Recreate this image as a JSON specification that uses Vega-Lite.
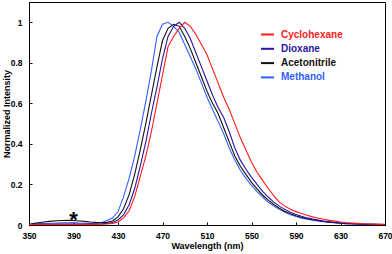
{
  "$schema": "https://vega.github.io/schema/vega-lite/v6.json",
  "width": 356,
  "height": 223,
  "autosize": "none",
  "padding": {"left": 29, "top": 2, "right": 7, "bottom": 29},
  "background": "white",
  "config": {
    "font": "Liberation Sans",
    "view": {"stroke": "black", "strokeWidth": 1},
    "axis": {"grid": false, "domainColor": "black", "tickColor": "black", "labelColor": "black", "titleColor": "black", "labelFont": "Liberation Sans", "titleFont": "Liberation Sans", "labelFontWeight": "bold", "titleFontWeight": "bold", "labelFontSize": 8.5, "titleFontSize": 9}
  },
  "layer": [
    {
      "data": {"values": [
        {"s":"Methanol","w":350,"v":0.004},{"s":"Methanol","w":355,"v":0.005},{"s":"Methanol","w":360,"v":0.007},{"s":"Methanol","w":365,"v":0.008},{"s":"Methanol","w":370,"v":0.009},{"s":"Methanol","w":375,"v":0.010},{"s":"Methanol","w":380,"v":0.011},{"s":"Methanol","w":385,"v":0.011},{"s":"Methanol","w":390,"v":0.012},{"s":"Methanol","w":395,"v":0.010},{"s":"Methanol","w":400,"v":0.009},{"s":"Methanol","w":405,"v":0.008},{"s":"Methanol","w":410,"v":0.008},{"s":"Methanol","w":415,"v":0.011},{"s":"Methanol","w":420,"v":0.022},{"s":"Methanol","w":425,"v":0.034},{"s":"Methanol","w":430,"v":0.065},{"s":"Methanol","w":435,"v":0.14},{"s":"Methanol","w":440,"v":0.23},{"s":"Methanol","w":445,"v":0.34},{"s":"Methanol","w":450,"v":0.47},{"s":"Methanol","w":455,"v":0.61},{"s":"Methanol","w":460,"v":0.76},{"s":"Methanol","w":465,"v":0.93},{"s":"Methanol","w":470,"v":0.99},{"s":"Methanol","w":475,"v":1.0},{"s":"Methanol","w":480,"v":0.98},{"s":"Methanol","w":485,"v":0.95},{"s":"Methanol","w":490,"v":0.89},{"s":"Methanol","w":495,"v":0.83},{"s":"Methanol","w":500,"v":0.77},{"s":"Methanol","w":505,"v":0.70},{"s":"Methanol","w":510,"v":0.63},{"s":"Methanol","w":515,"v":0.57},{"s":"Methanol","w":520,"v":0.51},{"s":"Methanol","w":525,"v":0.45},{"s":"Methanol","w":530,"v":0.38},{"s":"Methanol","w":535,"v":0.32},{"s":"Methanol","w":540,"v":0.27},{"s":"Methanol","w":545,"v":0.23},{"s":"Methanol","w":550,"v":0.195},{"s":"Methanol","w":555,"v":0.165},{"s":"Methanol","w":560,"v":0.138},{"s":"Methanol","w":565,"v":0.113},{"s":"Methanol","w":570,"v":0.093},{"s":"Methanol","w":575,"v":0.077},{"s":"Methanol","w":580,"v":0.063},{"s":"Methanol","w":585,"v":0.051},{"s":"Methanol","w":590,"v":0.042},{"s":"Methanol","w":595,"v":0.034},{"s":"Methanol","w":600,"v":0.028},{"s":"Methanol","w":605,"v":0.024},{"s":"Methanol","w":610,"v":0.020},{"s":"Methanol","w":615,"v":0.016},{"s":"Methanol","w":620,"v":0.013},{"s":"Methanol","w":625,"v":0.011},{"s":"Methanol","w":630,"v":0.009},{"s":"Methanol","w":635,"v":0.007},{"s":"Methanol","w":640,"v":0.006},{"s":"Methanol","w":645,"v":0.005},{"s":"Methanol","w":650,"v":0.004},{"s":"Methanol","w":655,"v":0.003},{"s":"Methanol","w":660,"v":0.003},{"s":"Methanol","w":665,"v":0.002},{"s":"Methanol","w":670,"v":0.002},
        {"s":"Acetonitrile","w":350,"v":0.004},{"s":"Acetonitrile","w":355,"v":0.008},{"s":"Acetonitrile","w":360,"v":0.012},{"s":"Acetonitrile","w":365,"v":0.016},{"s":"Acetonitrile","w":370,"v":0.019},{"s":"Acetonitrile","w":375,"v":0.021},{"s":"Acetonitrile","w":380,"v":0.022},{"s":"Acetonitrile","w":385,"v":0.023},{"s":"Acetonitrile","w":390,"v":0.022},{"s":"Acetonitrile","w":395,"v":0.020},{"s":"Acetonitrile","w":400,"v":0.018},{"s":"Acetonitrile","w":405,"v":0.015},{"s":"Acetonitrile","w":410,"v":0.013},{"s":"Acetonitrile","w":415,"v":0.012},{"s":"Acetonitrile","w":420,"v":0.013},{"s":"Acetonitrile","w":425,"v":0.020},{"s":"Acetonitrile","w":430,"v":0.040},{"s":"Acetonitrile","w":435,"v":0.08},{"s":"Acetonitrile","w":440,"v":0.15},{"s":"Acetonitrile","w":445,"v":0.25},{"s":"Acetonitrile","w":450,"v":0.37},{"s":"Acetonitrile","w":455,"v":0.50},{"s":"Acetonitrile","w":460,"v":0.64},{"s":"Acetonitrile","w":465,"v":0.78},{"s":"Acetonitrile","w":470,"v":0.91},{"s":"Acetonitrile","w":475,"v":0.97},{"s":"Acetonitrile","w":480,"v":0.99},{"s":"Acetonitrile","w":485,"v":0.98},{"s":"Acetonitrile","w":490,"v":0.93},{"s":"Acetonitrile","w":495,"v":0.87},{"s":"Acetonitrile","w":500,"v":0.80},{"s":"Acetonitrile","w":505,"v":0.73},{"s":"Acetonitrile","w":510,"v":0.66},{"s":"Acetonitrile","w":515,"v":0.60},{"s":"Acetonitrile","w":520,"v":0.55},{"s":"Acetonitrile","w":525,"v":0.48},{"s":"Acetonitrile","w":530,"v":0.41},{"s":"Acetonitrile","w":535,"v":0.34},{"s":"Acetonitrile","w":540,"v":0.29},{"s":"Acetonitrile","w":545,"v":0.25},{"s":"Acetonitrile","w":550,"v":0.21},{"s":"Acetonitrile","w":555,"v":0.178},{"s":"Acetonitrile","w":560,"v":0.148},{"s":"Acetonitrile","w":565,"v":0.123},{"s":"Acetonitrile","w":570,"v":0.101},{"s":"Acetonitrile","w":575,"v":0.083},{"s":"Acetonitrile","w":580,"v":0.068},{"s":"Acetonitrile","w":585,"v":0.056},{"s":"Acetonitrile","w":590,"v":0.046},{"s":"Acetonitrile","w":595,"v":0.038},{"s":"Acetonitrile","w":600,"v":0.031},{"s":"Acetonitrile","w":605,"v":0.026},{"s":"Acetonitrile","w":610,"v":0.021},{"s":"Acetonitrile","w":615,"v":0.017},{"s":"Acetonitrile","w":620,"v":0.014},{"s":"Acetonitrile","w":625,"v":0.011},{"s":"Acetonitrile","w":630,"v":0.009},{"s":"Acetonitrile","w":635,"v":0.007},{"s":"Acetonitrile","w":640,"v":0.006},{"s":"Acetonitrile","w":645,"v":0.005},{"s":"Acetonitrile","w":650,"v":0.004},{"s":"Acetonitrile","w":655,"v":0.003},{"s":"Acetonitrile","w":660,"v":0.003},{"s":"Acetonitrile","w":665,"v":0.002},{"s":"Acetonitrile","w":670,"v":0.002},
        {"s":"Dioxane","w":350,"v":0.002},{"s":"Dioxane","w":355,"v":0.003},{"s":"Dioxane","w":360,"v":0.003},{"s":"Dioxane","w":365,"v":0.004},{"s":"Dioxane","w":370,"v":0.004},{"s":"Dioxane","w":375,"v":0.005},{"s":"Dioxane","w":380,"v":0.005},{"s":"Dioxane","w":385,"v":0.005},{"s":"Dioxane","w":390,"v":0.005},{"s":"Dioxane","w":395,"v":0.005},{"s":"Dioxane","w":400,"v":0.005},{"s":"Dioxane","w":405,"v":0.005},{"s":"Dioxane","w":410,"v":0.005},{"s":"Dioxane","w":415,"v":0.006},{"s":"Dioxane","w":420,"v":0.008},{"s":"Dioxane","w":425,"v":0.012},{"s":"Dioxane","w":430,"v":0.025},{"s":"Dioxane","w":435,"v":0.05},{"s":"Dioxane","w":440,"v":0.10},{"s":"Dioxane","w":445,"v":0.18},{"s":"Dioxane","w":450,"v":0.29},{"s":"Dioxane","w":455,"v":0.41},{"s":"Dioxane","w":460,"v":0.55},{"s":"Dioxane","w":465,"v":0.68},{"s":"Dioxane","w":470,"v":0.82},{"s":"Dioxane","w":475,"v":0.93},{"s":"Dioxane","w":480,"v":0.98},{"s":"Dioxane","w":485,"v":1.0},{"s":"Dioxane","w":490,"v":0.97},{"s":"Dioxane","w":495,"v":0.92},{"s":"Dioxane","w":500,"v":0.85},{"s":"Dioxane","w":505,"v":0.78},{"s":"Dioxane","w":510,"v":0.71},{"s":"Dioxane","w":515,"v":0.64},{"s":"Dioxane","w":520,"v":0.58},{"s":"Dioxane","w":525,"v":0.53},{"s":"Dioxane","w":530,"v":0.46},{"s":"Dioxane","w":535,"v":0.38},{"s":"Dioxane","w":540,"v":0.32},{"s":"Dioxane","w":545,"v":0.275},{"s":"Dioxane","w":550,"v":0.235},{"s":"Dioxane","w":555,"v":0.20},{"s":"Dioxane","w":560,"v":0.166},{"s":"Dioxane","w":565,"v":0.138},{"s":"Dioxane","w":570,"v":0.113},{"s":"Dioxane","w":575,"v":0.093},{"s":"Dioxane","w":580,"v":0.077},{"s":"Dioxane","w":585,"v":0.063},{"s":"Dioxane","w":590,"v":0.052},{"s":"Dioxane","w":595,"v":0.043},{"s":"Dioxane","w":600,"v":0.035},{"s":"Dioxane","w":605,"v":0.029},{"s":"Dioxane","w":610,"v":0.024},{"s":"Dioxane","w":615,"v":0.019},{"s":"Dioxane","w":620,"v":0.016},{"s":"Dioxane","w":625,"v":0.013},{"s":"Dioxane","w":630,"v":0.010},{"s":"Dioxane","w":635,"v":0.008},{"s":"Dioxane","w":640,"v":0.007},{"s":"Dioxane","w":645,"v":0.005},{"s":"Dioxane","w":650,"v":0.004},{"s":"Dioxane","w":655,"v":0.004},{"s":"Dioxane","w":660,"v":0.003},{"s":"Dioxane","w":665,"v":0.003},{"s":"Dioxane","w":670,"v":0.002},
        {"s":"Cyclohexane","w":350,"v":0.002},{"s":"Cyclohexane","w":355,"v":0.002},{"s":"Cyclohexane","w":360,"v":0.003},{"s":"Cyclohexane","w":365,"v":0.003},{"s":"Cyclohexane","w":370,"v":0.003},{"s":"Cyclohexane","w":375,"v":0.003},{"s":"Cyclohexane","w":380,"v":0.003},{"s":"Cyclohexane","w":385,"v":0.003},{"s":"Cyclohexane","w":390,"v":0.003},{"s":"Cyclohexane","w":395,"v":0.003},{"s":"Cyclohexane","w":400,"v":0.003},{"s":"Cyclohexane","w":405,"v":0.003},{"s":"Cyclohexane","w":410,"v":0.003},{"s":"Cyclohexane","w":415,"v":0.004},{"s":"Cyclohexane","w":420,"v":0.005},{"s":"Cyclohexane","w":425,"v":0.008},{"s":"Cyclohexane","w":430,"v":0.015},{"s":"Cyclohexane","w":435,"v":0.035},{"s":"Cyclohexane","w":440,"v":0.07},{"s":"Cyclohexane","w":445,"v":0.14},{"s":"Cyclohexane","w":450,"v":0.24},{"s":"Cyclohexane","w":455,"v":0.34},{"s":"Cyclohexane","w":460,"v":0.46},{"s":"Cyclohexane","w":465,"v":0.60},{"s":"Cyclohexane","w":470,"v":0.74},{"s":"Cyclohexane","w":475,"v":0.88},{"s":"Cyclohexane","w":480,"v":0.93},{"s":"Cyclohexane","w":485,"v":0.97},{"s":"Cyclohexane","w":490,"v":1.0},{"s":"Cyclohexane","w":495,"v":0.98},{"s":"Cyclohexane","w":500,"v":0.94},{"s":"Cyclohexane","w":505,"v":0.89},{"s":"Cyclohexane","w":510,"v":0.84},{"s":"Cyclohexane","w":515,"v":0.77},{"s":"Cyclohexane","w":520,"v":0.70},{"s":"Cyclohexane","w":525,"v":0.63},{"s":"Cyclohexane","w":530,"v":0.57},{"s":"Cyclohexane","w":535,"v":0.50},{"s":"Cyclohexane","w":540,"v":0.43},{"s":"Cyclohexane","w":545,"v":0.37},{"s":"Cyclohexane","w":550,"v":0.31},{"s":"Cyclohexane","w":555,"v":0.26},{"s":"Cyclohexane","w":560,"v":0.22},{"s":"Cyclohexane","w":565,"v":0.18},{"s":"Cyclohexane","w":570,"v":0.145},{"s":"Cyclohexane","w":575,"v":0.113},{"s":"Cyclohexane","w":580,"v":0.093},{"s":"Cyclohexane","w":585,"v":0.078},{"s":"Cyclohexane","w":590,"v":0.066},{"s":"Cyclohexane","w":595,"v":0.057},{"s":"Cyclohexane","w":600,"v":0.048},{"s":"Cyclohexane","w":605,"v":0.040},{"s":"Cyclohexane","w":610,"v":0.033},{"s":"Cyclohexane","w":615,"v":0.028},{"s":"Cyclohexane","w":620,"v":0.023},{"s":"Cyclohexane","w":625,"v":0.019},{"s":"Cyclohexane","w":630,"v":0.015},{"s":"Cyclohexane","w":635,"v":0.012},{"s":"Cyclohexane","w":640,"v":0.010},{"s":"Cyclohexane","w":645,"v":0.008},{"s":"Cyclohexane","w":650,"v":0.006},{"s":"Cyclohexane","w":655,"v":0.005},{"s":"Cyclohexane","w":660,"v":0.004},{"s":"Cyclohexane","w":665,"v":0.003},{"s":"Cyclohexane","w":670,"v":0.003}
      ]},
      "mark": {"type": "line", "strokeWidth": 1.1, "clip": true},
      "encoding": {
        "x": {"field": "w", "type": "quantitative", "scale": {"domain": [350, 670], "nice": false},
              "axis": {"title": "Wavelength (nm)", "values": [350,390,430,470,510,550,590,630,670], "tickSize": -3, "labelPadding": 9, "titlePadding": 2, "labelFlush": false}},
        "y": {"field": "v", "type": "quantitative", "scale": {"domain": [0, 1.1], "nice": false},
              "axis": {"title": "Normalized Intensity", "values": [0,0.2,0.4,0.6,0.8,1], "format": "~g", "tickSize": -3, "labelPadding": 10, "titleX": -18}},
        "color": {"field": "s", "type": "nominal",
                  "scale": {"domain": ["Cyclohexane","Dioxane","Acetonitrile","Methanol"], "range": ["#ff1a1a","#2a14a0","#111111","#3060ff"]},
                  "legend": {"title": null, "orient": "none", "legendX": 231, "legendY": 25, "padding": 0, "symbolType": "stroke", "symbolSize": 169, "symbolStrokeWidth": 2, "labelFontSize": 10, "labelFontWeight": "bold", "labelFont": "Liberation Sans", "rowPadding": 1.3, "labelOffset": 6,
                             "encode": {"labels": {"update": {"fill": {"scale": "color", "field": "value"}}}}}},
        "order": {"field": "w", "type": "quantitative"}
      }
    },
    {
      "data": {"values": [{"w": 390, "v": 0.026, "t": "*"}]},
      "mark": {"type": "text", "fontSize": 22, "fontWeight": "bold", "font": "Liberation Sans", "baseline": "middle", "align": "center", "color": "black"},
      "encoding": {"x": {"field": "w", "type": "quantitative"}, "y": {"field": "v", "type": "quantitative"}, "text": {"field": "t"}}
    }
  ]
}
